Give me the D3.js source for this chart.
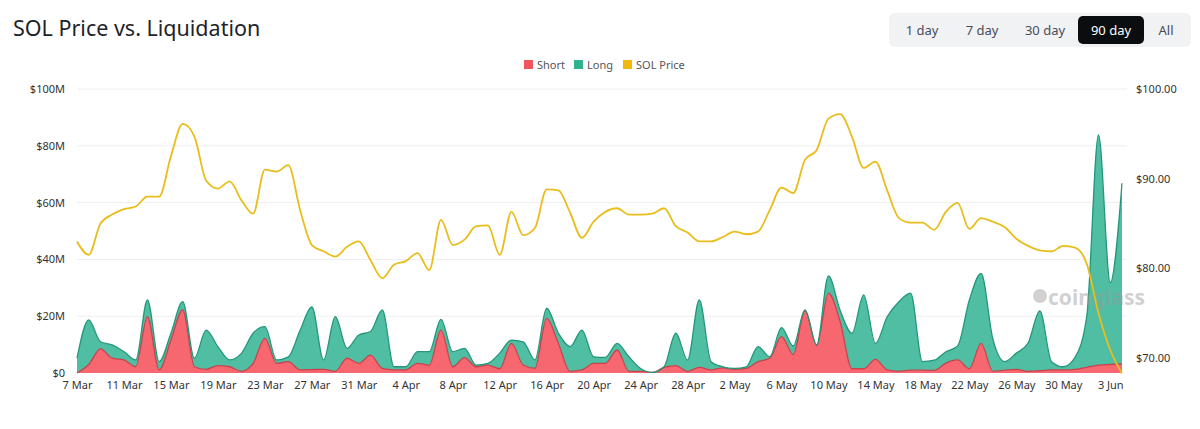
<!DOCTYPE html>
<html>
<head>
<meta charset="utf-8">
<style>
  body { margin: 0; background: #fff; font-family: "Noto Sans", "Open Sans", sans-serif; }
</style>
</head>
<body>
<svg width="1200" height="429"></svg>
<script src="https://d3js.org/d3.v7.min.js"></script>
<script>
  // daily points, 7 Mar .. 4 Jun
  var shortVals = [0, 3.0, 8.5, 5.2, 4.6, 2.2, 19.8, 1.1, 11.6, 22.2,
    2.2, 1.3, 2.6, 2.2, 0.6, 3.4, 12.2, 3.4, 4.0, 1.1,
    1.2, 1.3, 0.6, 5.2, 3.4, 6.3, 1.6, 1.1, 1.1, 3.4,
    2.8, 15.1, 2.2, 5.4, 2.2, 2.8, 1.5, 10.4, 2.8, 1.6,
    19.2, 10.4, 0.6, 1.1, 3.4, 3.4, 8.1, 0.6, 0.6, 0.2,
    2.0, 2.6, 0.6, 2.0, 1.1, 1.8, 1.3, 1.6, 4.0, 5.2,
    12.8, 6.5, 22.0, 9.6, 28.1, 18.0, 1.5, 1.5, 4.8, 1.1,
    0.6, 1.0, 1.0, 0.9, 3.5, 4.6, 1.5, 10.4, 0.6, 1.0,
    1.3, 0.6, 0.8, 1.1, 1.1, 1.3, 2.0, 2.8, 3.0, 3.2];
  var totalVals = [5.2, 18.7, 11.0, 9.9, 7.5, 4.6, 25.7, 4.0, 14.0, 25.1,
    5.2, 15.1, 9.3, 4.6, 6.9, 14.0, 16.3, 4.6, 5.7, 15.0,
    23.3, 4.6, 19.8, 8.7, 13.4, 14.6, 22.2, 2.2, 2.2, 7.5,
    7.5, 18.9, 7.5, 8.7, 2.8, 3.4, 7.0, 11.6, 11.0, 4.6,
    22.8, 14.0, 9.3, 15.1, 5.7, 5.5, 10.4, 5.7, 1.6, 0.2,
    2.2, 14.0, 4.6, 25.7, 4.0, 2.2, 1.6, 2.2, 9.3, 5.7,
    16.0, 9.5, 22.2, 9.9, 34.2, 22.0, 14.0, 27.5, 10.4, 19.8,
    25.1, 28.1, 4.0, 4.5, 7.5, 9.5, 25.7, 35.1, 12.0, 4.0,
    7.0, 10.5, 21.9, 4.0, 2.2, 5.5, 20.0, 83.8, 31.8, 66.8];
  var priceVals = [83.0, 81.5, 85.0, 86.0, 86.6, 86.9, 88.0, 88.0, 92.5, 96.1,
    94.7, 89.8, 88.9, 89.7, 87.6, 86.1, 91.0, 90.8, 91.5, 86.5,
    82.6, 81.9, 81.3, 82.4, 83.0, 80.9, 78.9, 80.4, 80.8, 81.7,
    79.8, 85.4, 82.6, 83.2, 84.7, 84.8, 81.5, 86.3, 83.7, 84.5,
    88.8, 88.7, 86.2, 83.4, 85.2, 86.3, 86.7, 86.0, 86.0, 86.1,
    86.7, 84.7, 84.0, 83.0, 83.0, 83.5, 84.1, 83.8, 84.1, 86.5,
    89.0, 88.4, 92.1, 93.2, 96.7, 97.2, 94.7, 91.2, 91.9, 88.7,
    85.6, 85.1, 85.1, 84.3, 86.3, 87.3, 84.4, 85.6, 85.2, 84.6,
    83.3, 82.5, 82.0, 81.9, 82.5, 82.3, 80.5, 75.0, 70.9, 68.3];
  var xTickLabels = ["7 Mar", "11 Mar", "15 Mar", "19 Mar", "23 Mar", "27 Mar", "31 Mar", "4 Apr",
    "8 Apr", "12 Apr", "16 Apr", "20 Apr", "24 Apr", "28 Apr", "2 May", "6 May", "10 May",
    "14 May", "18 May", "22 May", "26 May", "30 May", "3 Jun"];
  var leftTicks = [0, 20, 40, 60, 80, 100];
  var rightTicks = [70, 80, 90, 100];
  var ranges = ["1 day", "7 day", "30 day", "90 day", "All"];

  var svg = d3.select("svg");
  var plotLeft = 77, plotRight = 1122, plotTop = 89, plotBottom = 373;

  var data = shortVals.map(function(s, i) {
    return { i: i, short: s, long: Math.max(0, totalVals[i] - s), price: priceVals[i] };
  });

  var x = d3.scaleLinear().domain([0, data.length - 1]).range([plotLeft, plotRight]);
  var y = d3.scaleLinear().domain([0, 100]).range([plotBottom, plotTop]);
  var y2 = d3.scaleLinear().domain([68.33, 100]).range([plotBottom, plotTop]);

  // title
  svg.append("text").attr("x", 13).attr("y", 36)
    .attr("font-size", 21.5).attr("fill", "#1e2329").text("SOL Price vs. Liquidation");

  // range buttons
  var btnX = [922, 982, 1045, 1111, 1166];
  svg.append("rect").attr("x", 889).attr("y", 13).attr("width", 302).attr("height", 34)
    .attr("rx", 6).attr("fill", "#f1f2f4");
  svg.append("rect").attr("x", 1078).attr("y", 16).attr("width", 66).attr("height", 28)
    .attr("rx", 5).attr("fill", "#0b0e11");
  svg.selectAll(".btn").data(ranges).enter().append("text")
    .attr("x", function(d, i) { return btnX[i]; }).attr("y", 35)
    .attr("text-anchor", "middle").attr("font-size", 13)
    .attr("fill", function(d) { return d == "90 day" ? "#fff" : "#474d57"; })
    .text(function(d) { return d; });

  // legend
  var legend = [["Short", "#f0565f", 524], ["Long", "#2fb38f", 574], ["SOL Price", "#f0b90b", 623]];
  legend.forEach(function(l) {
    svg.append("rect").attr("x", l[2]).attr("y", 60).attr("width", 9).attr("height", 9).attr("fill", l[1]);
    svg.append("text").attr("x", l[2] + 13).attr("y", 68.5).attr("font-size", 11)
      .attr("fill", "#555").text(l[0]);
  });

  // grid + axes
  var yAxis = d3.axisLeft(y).tickValues(leftTicks).tickSize(0).tickPadding(12)
    .tickFormat(function(d) { return d == 0 ? "$0" : "$" + d + "M"; });
  var gy = svg.append("g").attr("transform", "translate(" + plotLeft + ",0)").call(yAxis);
  gy.select(".domain").remove();
  gy.selectAll("text").attr("font-size", 11).attr("fill", "#333").attr("font-family", "Noto Sans");

  svg.append("g").selectAll("line").data(leftTicks.slice(1)).enter().append("line")
    .attr("x1", plotLeft).attr("x2", plotRight + 5)
    .attr("y1", function(d) { return y(d); }).attr("y2", function(d) { return y(d); })
    .attr("stroke", "#eeeeee");

  var yAxis2 = d3.axisRight(y2).tickValues(rightTicks).tickSize(0).tickPadding(14)
    .tickFormat(function(d) { return "$" + d3.format(".2f")(d); });
  var gy2 = svg.append("g").attr("transform", "translate(" + plotRight + ",0)").call(yAxis2);
  gy2.select(".domain").remove();
  gy2.selectAll("text").attr("font-size", 11).attr("fill", "#333").attr("font-family", "Noto Sans");

  var xAxis = d3.axisBottom(x).tickValues(d3.range(0, 89, 4)).tickSize(0).tickPadding(8)
    .tickFormat(function(d, i) { return xTickLabels[i]; });
  var gx = svg.append("g").attr("transform", "translate(0," + plotBottom + ")").call(xAxis);
  gx.select(".domain").remove();
  gx.selectAll("text").attr("font-size", 11).attr("fill", "#333").attr("font-family", "Noto Sans");

  // stacked areas
  var stack = d3.stack().keys(["short", "long"])(data);
  var area = d3.area().curve(d3.curveMonotoneX)
    .x(function(d) { return x(d.data.i); })
    .y0(function(d) { return y(d[0]); })
    .y1(function(d) { return y(d[1]); });
  var topLine = d3.line().curve(d3.curveMonotoneX)
    .x(function(d) { return x(d.data.i); })
    .y(function(d) { return y(d[1]); });

  var fills = ["#f6676f", "#50bea3"];
  var strokes = ["#c8424c", "#24977b"];
  stack.forEach(function(s, k) {
    svg.append("path").datum(s).attr("d", area).attr("fill", fills[k]);
  });
  stack.forEach(function(s, k) {
    svg.append("path").datum(s).attr("d", topLine).attr("fill", "none")
      .attr("stroke", strokes[k]).attr("stroke-width", 1.3);
  });

  // watermark
  svg.append("text").attr("x", 1048).attr("y", 305).attr("font-size", 21).attr("font-weight", "bold")
    .attr("fill", "#9a9a9a").attr("opacity", 0.45).text("coinglass");
  svg.append("circle").attr("cx", 1040).attr("cy", 296).attr("r", 7).attr("fill", "#9a9a9a").attr("opacity", 0.45);

  // price line
  var priceLine = d3.line().curve(d3.curveMonotoneX)
    .x(function(d) { return x(d.i); })
    .y(function(d) { return y2(d.price); });
  svg.append("path").datum(data).attr("d", priceLine).attr("fill", "none")
    .attr("stroke", "#e9bd1c").attr("stroke-width", 1.8);
</script>
</body>
</html>
